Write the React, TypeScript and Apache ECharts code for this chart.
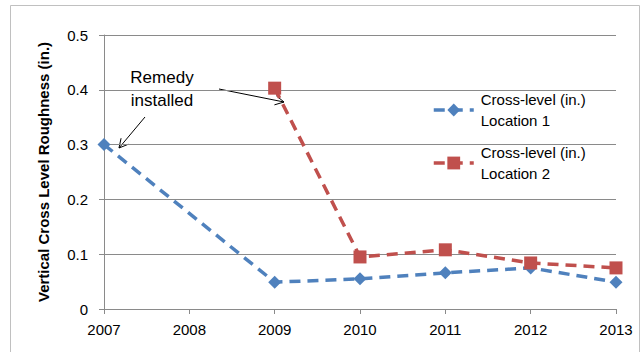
import { useEffect, useRef } from "react";
import * as echarts from "echarts";

// Survey years on the horizontal axis
const yearMin = 2007;
const yearMax = 2013;

// Cross-level roughness readings (in.)
const location1Years = [2007, 2009, 2010, 2011, 2012, 2013];
const location1Values = [0.3, 0.049, 0.055, 0.066, 0.075, 0.049];
const location2Years = [2009, 2010, 2011, 2012, 2013];
const location2Values = [0.403, 0.095, 0.108, 0.084, 0.075];

const seriesNames = ["Cross-level (in.)\nLocation 1", "Cross-level (in.)\nLocation 2"];
const annotationText = "Remedy\ninstalled";
const yAxisTitle = "Vertical Cross Level Roughness (in.)";

const FONT = "'Liberation Sans', Arial, sans-serif";
const BLUE = "#4F81BD";
const RED = "#C0504D";
const GRID_GRAY = "#8a8a8a";

// open "V" arrow made of a shaft and two short barbs
function arrow(tail: number[], tip: number[]) {
  const dx = tail[0] - tip[0];
  const dy = tail[1] - tip[1];
  const len = Math.hypot(dx, dy);
  const ux = dx / len;
  const uy = dy / len;
  const a = (28 * Math.PI) / 180;
  const L = 10;
  const b1 = [tip[0] + L * (ux * Math.cos(a) - uy * Math.sin(a)), tip[1] + L * (ux * Math.sin(a) + uy * Math.cos(a))];
  const b2 = [tip[0] + L * (ux * Math.cos(a) + uy * Math.sin(a)), tip[1] + L * (-ux * Math.sin(a) + uy * Math.cos(a))];
  return [
    {
      type: "line",
      shape: { x1: tail[0], y1: tail[1], x2: tip[0], y2: tip[1] },
      style: { stroke: "#000", lineWidth: 1 },
    },
    {
      type: "polyline",
      shape: { points: [b1, tip, b2] },
      style: { stroke: "#000", lineWidth: 1, fill: null },
    },
  ];
}

export default function App() {
  const ref = useRef<HTMLDivElement>(null);

  useEffect(() => {
    if (!ref.current) return;
    const chart = echarts.init(ref.current, null, { renderer: "svg" });
    const lineSeries = (name: string, xs: number[], ys: number[], color: string, symbol: string, size: number) => ({
      name,
      type: "line",
      data: xs.map((x, i) => [x, ys[i]]),
      symbol,
      symbolSize: size,
      showAllSymbol: true,
      itemStyle: { color },
      lineStyle: { color, width: 3.5, type: [11, 7] },
    });
    chart.setOption({
      animation: false,
      backgroundColor: "#ffffff",
      textStyle: { fontFamily: FONT },
      grid: { left: 104, right: 28, top: 35, bottom: 43, containLabel: false },
      legend: {
        left: 427,
        top: 73.5,
        orient: "vertical",
        itemWidth: 40,
        itemHeight: 16,
        itemGap: -10,
        data: seriesNames,
        lineStyle: { width: 3.5 },
        textStyle: {
          fontFamily: FONT,
          fontSize: 15,
          color: "#000",
          lineHeight: 21,
          padding: [21, 0, 0, 2],
        },
      },
      xAxis: {
        type: "value",
        min: yearMin,
        max: yearMax,
        interval: 1,
        splitLine: { show: false },
        axisLine: { show: true, lineStyle: { color: GRID_GRAY, width: 1 } },
        axisTick: { show: true, length: 5, lineStyle: { color: GRID_GRAY } },
        axisLabel: {
          color: "#000",
          fontSize: 15,
          fontFamily: FONT,
          margin: 13,
          formatter: (v: number) => String(v),
        },
      },
      yAxis: {
        type: "value",
        min: 0,
        max: 0.5,
        interval: 0.1,
        name: yAxisTitle,
        nameLocation: "middle",
        nameGap: 53,
        nameRotate: 90,
        nameTextStyle: { fontFamily: FONT, fontSize: 15, fontWeight: "bold", color: "#000" },
        axisLine: { show: true, lineStyle: { color: GRID_GRAY, width: 1 } },
        axisTick: { show: true, length: 5, lineStyle: { color: GRID_GRAY } },
        splitLine: { show: true, lineStyle: { color: GRID_GRAY, width: 1 } },
        axisLabel: {
          color: "#000",
          fontSize: 15,
          fontFamily: FONT,
          margin: 16,
          formatter: (v: number) => (v === 0 ? "0" : v.toFixed(1)),
        },
      },
      series: [
        lineSeries(seriesNames[0], location1Years, location1Values, BLUE, "diamond", 13),
        lineSeries(seriesNames[1], location2Years, location2Values, RED, "rect", 13),
      ],
      graphic: [
        {
          type: "rect",
          shape: { x: 10.5, y: 5.5, width: 629, height: 400 },
          style: { fill: null, stroke: "#c0c0c0", lineWidth: 1 },
          silent: true,
        },
        {
          type: "text",
          x: 162,
          y: 89,
          style: {
            text: annotationText,
            fontFamily: FONT,
            fontSize: 17,
            lineHeight: 23,
            fill: "#000",
            align: "center",
            verticalAlign: "middle",
          },
        },
        ...arrow([145, 117], [119, 148]),
        ...arrow([219, 89], [284, 102]),
      ],
    });
    return () => chart.dispose();
  }, []);

  return (
    <div
      ref={ref}
      style={{ position: "fixed", left: 0, top: 0, width: 644, height: 352, background: "#fff" }}
    />
  );
}
